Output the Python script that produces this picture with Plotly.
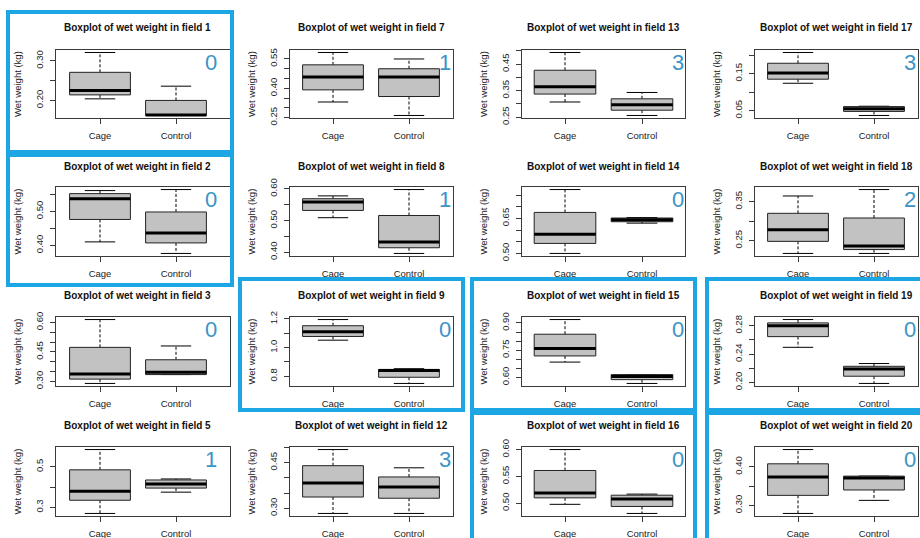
import plotly.graph_objects as go

W, H = 920, 538

# ---------------- data ----------------
fields = [1, 7, 13, 17, 2, 8, 14, 18, 3, 9, 15, 19, 5, 12, 16, 20]
groups = ["Cage", "Control"]
panel_numbers = ["0", "1", "3", "3", "0", "1", "0", "2", "0", "0", "0", "0", "1", "3", "0", "0"]

cage_low  = [0.204, 0.330, 0.307, 0.124, 0.410, 0.509, 0.500, 0.217, 0.290, 1.052, 0.684, 0.2495, 0.270, 0.283, 0.498, 0.279]
cage_q1   = [0.214, 0.392, 0.337, 0.135, 0.476, 0.532, 0.543, 0.248, 0.312, 1.078, 0.718, 0.2646, 0.335, 0.337, 0.510, 0.326]
cage_med  = [0.225, 0.458, 0.365, 0.152, 0.537, 0.559, 0.582, 0.278, 0.338, 1.110, 0.759, 0.2800, 0.380, 0.383, 0.519, 0.374]
cage_q3   = [0.271, 0.520, 0.427, 0.178, 0.552, 0.569, 0.676, 0.320, 0.473, 1.153, 0.838, 0.2840, 0.485, 0.440, 0.561, 0.408]
cage_high = [0.321, 0.583, 0.494, 0.207, 0.561, 0.578, 0.774, 0.3645, 0.614, 1.196, 0.919, 0.2887, 0.585, 0.493, 0.600, 0.445]

ctrl_low  = [0.162, 0.261, 0.256, 0.037, 0.376, 0.396, 0.630, 0.217, 0.335, 0.750, 0.566, 0.1985, 0.375, 0.283, 0.481, 0.313]
ctrl_q1   = [0.162, 0.358, 0.276, 0.048, 0.407, 0.414, 0.636, 0.227, 0.335, 0.793, 0.587, 0.2087, 0.395, 0.333, 0.494, 0.340]
ctrl_med  = [0.163, 0.458, 0.297, 0.055, 0.436, 0.432, 0.644, 0.236, 0.347, 0.841, 0.604, 0.2190, 0.415, 0.370, 0.508, 0.371]
ctrl_q3   = [0.200, 0.500, 0.319, 0.061, 0.498, 0.516, 0.652, 0.308, 0.410, 0.848, 0.615, 0.2227, 0.435, 0.403, 0.515, 0.376]
ctrl_high = [0.236, 0.550, 0.343, 0.062, 0.564, 0.598, 0.654, 0.381, 0.480, 0.853, 0.615, 0.2266, 0.440, 0.433, 0.517, 0.376]

y_ticks = [
    [0.20, 0.25, 0.30],
    [0.25, 0.30, 0.35, 0.40, 0.45, 0.50, 0.55],
    [0.25, 0.30, 0.35, 0.40, 0.45, 0.50],
    [0.05, 0.10, 0.15, 0.20],
    [0.40, 0.45, 0.50, 0.55],
    [0.40, 0.45, 0.50, 0.55, 0.60],
    [0.50, 0.55, 0.60, 0.65, 0.70, 0.75],
    [0.25, 0.30, 0.35],
    [0.30, 0.35, 0.40, 0.45, 0.50, 0.55, 0.60],
    [0.8, 0.9, 1.0, 1.1, 1.2],
    [0.60, 0.65, 0.70, 0.75, 0.80, 0.85, 0.90],
    [0.20, 0.22, 0.24, 0.26, 0.28],
    [0.3, 0.4, 0.5],
    [0.30, 0.35, 0.40, 0.45, 0.50],
    [0.50, 0.55, 0.60],
    [0.30, 0.35, 0.40],
]
y_tick_labels = [
    ["0.20", "", "0.30"],
    ["0.25", "", "", "0.40", "", "", "0.55"],
    ["0.25", "", "0.35", "", "0.45", ""],
    ["0.05", "", "0.15", ""],
    ["0.40", "", "0.50", ""],
    ["0.40", "", "0.50", "", "0.60"],
    ["0.50", "", "", "0.65", "", ""],
    ["0.25", "", "0.35"],
    ["0.30", "", "", "0.45", "", "", "0.60"],
    ["0.8", "", "1.0", "", "1.2"],
    ["0.60", "", "", "0.75", "", "", "0.90"],
    ["0.20", "", "0.24", "", "0.28"],
    ["0.3", "", "0.5"],
    ["0.30", "", "", "0.45", ""],
    ["0.50", "0.55", "0.60"],
    ["0.30", "", "0.40"],
]

# ---------------- layout (pixels) ----------------
col_left = [56, 290, 522, 755]
col_right = [230, 453, 685, 918]
col_cage_px = [100, 333, 565, 798]
col_ctrl_px = [176, 409, 642, 874]
title_cx = [137, 371.5, 603.5, 836]
num_x = [211, 445, 678, 910]
row_top = [50, 187, 317, 447]
row_bottom = [118, 256, 386, 516]
title_y = [28, 166, 295, 425]

FONT = "Liberation Sans"
BOX_FILL = "#c2c2c2"
FRAME = "#3a3a3a"
NUM_COLOR = "#3b94c6"
HILITE = "#1ca6e3"


def px(x):
    return x / W


def py(y):
    return 1 - y / H


fig = go.Figure()
layout_axes = {}
annotations = []

for k in range(16):
    r, c = divmod(k, 4)
    sfx = "" if k == 0 else str(k + 1)
    xa, ya = "x" + sfx, "y" + sfx

    stats = [
        (cage_low[k], cage_q1[k], cage_med[k], cage_q3[k], cage_high[k]),
        (ctrl_low[k], ctrl_q1[k], ctrl_med[k], ctrl_q3[k], ctrl_high[k]),
    ]
    for gi, (lo, q1, md, q3, hi) in enumerate(stats):
        xc = gi + 1
        hw = 0.4
        # whiskers (dashed)
        fig.add_trace(go.Scatter(x=[xc, xc, None, xc, xc], y=[q3, hi, None, q1, lo],
                                 mode="lines", line=dict(color="black", width=1, dash="3px,2px"),
                                 xaxis=xa, yaxis=ya, showlegend=False, hoverinfo="skip"))
        # staples
        fig.add_trace(go.Scatter(x=[xc - hw / 2, xc + hw / 2, None, xc - hw / 2, xc + hw / 2],
                                 y=[hi, hi, None, lo, lo], mode="lines",
                                 line=dict(color="black", width=1),
                                 xaxis=xa, yaxis=ya, showlegend=False, hoverinfo="skip"))
        # box
        fig.add_trace(go.Scatter(x=[xc - hw, xc + hw, xc + hw, xc - hw, xc - hw],
                                 y=[q1, q1, q3, q3, q1], mode="lines", fill="toself",
                                 fillcolor=BOX_FILL, line=dict(color="#222222", width=1),
                                 xaxis=xa, yaxis=ya, showlegend=False, hoverinfo="skip"))
        # median
        fig.add_trace(go.Scatter(x=[xc - hw, xc + hw], y=[md, md], mode="lines",
                                 line=dict(color="black", width=3),
                                 xaxis=xa, yaxis=ya, showlegend=False, hoverinfo="skip"))

    ymin = min(cage_low[k], ctrl_low[k])
    ymax = max(cage_high[k], ctrl_high[k])
    pad = 0.04 * (ymax - ymin)

    unit = col_ctrl_px[c] - col_cage_px[c]
    xr = [1 - (col_cage_px[c] - col_left[c]) / unit, 2 + (col_right[c] - col_ctrl_px[c]) / unit]

    layout_axes["xaxis" + sfx] = dict(
        domain=[px(col_left[c]), px(col_right[c])], range=xr, anchor=ya,
        tickvals=[1, 2], ticktext=groups, ticks="outside", ticklen=5, tickcolor=FRAME,
        showline=True, mirror=True, linecolor=FRAME, linewidth=1, automargin=False,
        showgrid=False, zeroline=False, fixedrange=True,
        tickfont=dict(family=FONT, size=9.5, color="#222"), ticklabelstandoff=4,
    )
    layout_axes["yaxis" + sfx] = dict(
        domain=[py(row_bottom[r]), py(row_top[r])], range=[ymin - pad, ymax + pad], anchor=xa,
        tickvals=y_ticks[k], ticktext=y_tick_labels[k], ticks="outside", ticklen=5,
        tickcolor=FRAME, tickangle=-90, automargin=False,
        showline=True, mirror=True, linecolor=FRAME, linewidth=1,
        showgrid=False, zeroline=False, fixedrange=True,
        tickfont=dict(family=FONT, size=9.5, color="#222"), ticklabelstandoff=3,
    )

    annotations.append(dict(
        text="<b>Boxplot of wet weight in field %d</b>" % fields[k],
        x=px(title_cx[c]), y=py(title_y[r]), xref="paper", yref="paper",
        xanchor="center", yanchor="middle", showarrow=False,
        font=dict(family=FONT, size=10, color="#111"),
    ))
    annotations.append(dict(
        text="Wet weight (kg)", textangle=-90,
        x=px(col_left[c] - 39), y=py((row_top[r] + row_bottom[r]) / 2),
        xref="paper", yref="paper", xanchor="center", yanchor="middle", showarrow=False,
        font=dict(family=FONT, size=9.5, color="#222"),
    ))
    annotations.append(dict(
        text=panel_numbers[k], x=px(num_x[c]), y=py(row_top[r] + 12),
        xref="paper", yref="paper", xanchor="center", yanchor="middle", showarrow=False,
        font=dict(family=FONT, size=22, color=NUM_COLOR),
    ))

# highlight rectangles (pixel boxes around selected panels)
hilite_boxes = [
    (8, 12, 232, 152),
    (8, 155, 232, 285),
    (240, 279, 463, 410),
    (472, 279, 695, 410),
    (707, 279, 925, 410),
    (472, 413, 695, 545),
    (707, 413, 925, 545),
]
shapes = []
for (x0, y0, x1, y1) in hilite_boxes:
    shapes.append(dict(type="rect", xref="paper", yref="paper",
                       x0=px(x0), x1=px(x1), y0=py(y1), y1=py(y0),
                       line=dict(color=HILITE, width=4), layer="above"))

fig.update_layout(
    width=W, height=H, margin=dict(l=0, r=0, t=0, b=0, autoexpand=False),
    paper_bgcolor="white", plot_bgcolor="white",
    showlegend=False, annotations=annotations, shapes=shapes,
    **layout_axes,
)

fig.write_html("out.html", config={"displayModeBar": False},
               post_script="document.body.style.margin='0px';document.body.style.overflow='hidden';")
